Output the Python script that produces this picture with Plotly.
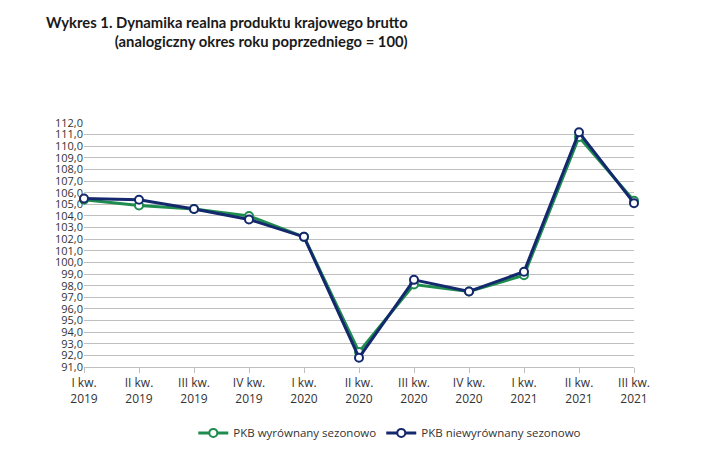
import plotly.graph_objects as go

quarters = ["I kw.<br>2019", "II kw.<br>2019", "III kw.<br>2019", "IV kw.<br>2019",
            "I kw.<br>2020", "II kw.<br>2020", "III kw.<br>2020", "IV kw.<br>2020",
            "I kw.<br>2021", "II kw.<br>2021", "III kw.<br>2021"]
pkb_sa = [105.4, 104.9, 104.6, 104.0, 102.2, 92.3, 98.1, 97.5, 98.9, 110.8, 105.3]
pkb_nsa = [105.5, 105.4, 104.6, 103.7, 102.2, 91.8, 98.5, 97.5, 99.2, 111.2, 105.1]
y_ticks = list(range(91, 113))

GREEN = "#1e8c4e"
NAVY = "#14286e"
x = list(range(len(quarters)))

fig = go.Figure()
fig.add_trace(go.Scatter(
    x=x, y=pkb_sa, name="PKB wyrównany sezonowo", mode="lines+markers",
    line=dict(color=GREEN, width=3),
    marker=dict(symbol="circle", size=8, color="white", line=dict(color=GREEN, width=2)),
    cliponaxis=False,
))
fig.add_trace(go.Scatter(
    x=x, y=pkb_nsa, name="PKB niewyrównany sezonowo", mode="lines+markers",
    line=dict(color=NAVY, width=3),
    marker=dict(symbol="circle", size=8, color="white", line=dict(color=NAVY, width=2)),
    cliponaxis=False,
))

# page body has an 8px margin, so the figure is sized/offset for it
fig.add_annotation(
    text="<b>Wykres 1. Dynamika realna produktu krajowego brutto<br>(analogiczny okres roku poprzedniego = 100)</b>",
    xref="paper", yref="paper", x=0.593, y=1.377, xanchor="right", yanchor="middle",
    align="right", showarrow=False, font=dict(family="Lato", size=14.8, color="#1a1a1a"),
)

fig.update_layout(
    width=716, height=465,
    margin=dict(l=76, r=90, t=115, b=106),
    paper_bgcolor="white", plot_bgcolor="white",
    separators=", ",
    font=dict(family="Open Sans", size=12, color="#333333"),
    showlegend=True,
    legend=dict(orientation="h", x=0.556, y=-0.27, xanchor="center", yanchor="middle",
                font=dict(size=11.5, color="#333333"), itemwidth=30),
)
fig.update_xaxes(
    range=[0, len(quarters) - 1], tickvals=x, ticktext=quarters,
    showgrid=False, zeroline=False, showline=True, linecolor="#bfbfbf", linewidth=1,
    ticks="outside", ticklen=5, tickcolor="#bfbfbf", fixedrange=True,
)
fig.update_yaxes(
    range=[91, 112], tickvals=y_ticks, tickformat=".1f",
    tickfont=dict(size=11),
    showgrid=True, gridcolor="#bfbfbf", gridwidth=1, zeroline=False,
    showline=False, ticks="", fixedrange=True,
)

fig.write_html("out.html")
